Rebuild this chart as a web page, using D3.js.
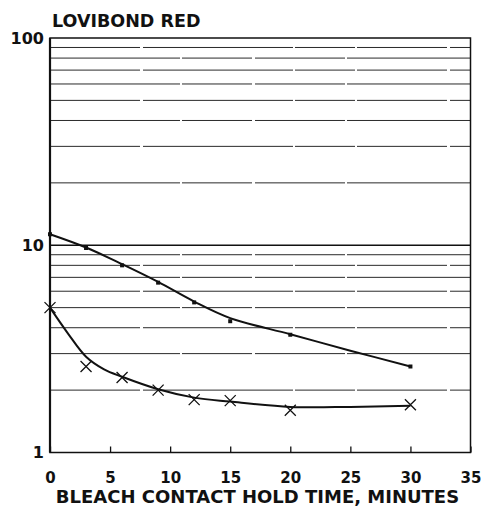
<!DOCTYPE html>
<html>
<head>
<meta charset="utf-8">
<script src="https://cdn.jsdelivr.net/npm/d3@7"></script>
<style>
  body { margin: 0; background: #fff; }
  text { font-family: "DejaVu Sans", sans-serif; font-weight: bold; fill: #111; }
</style>
</head>
<body>
<svg width="485" height="508"></svg>
<script>
'use strict';

// measured points (minutes, lovibond red)
const times = [0, 3, 6, 9, 12, 15, 20, 30];
const redSquares = [11.3, 9.7, 8.0, 6.6, 5.3, 4.3, 3.7, 2.6];
const redCrosses = [5.0, 2.6, 2.3, 2.0, 1.8, 1.78, 1.6, 1.7];

// hand drawn fit curves
const fitTimesUpper = [0, 3, 6, 9, 12, 15, 20, 25, 30];
const fitUpper = [11.3, 9.75, 8.1, 6.65, 5.35, 4.45, 3.72, 3.1, 2.6];
const fitTimesLower = [0, 1.5, 3, 4.5, 6, 9, 12, 15, 20, 25, 30];
const fitLower = [5.0, 3.75, 2.9, 2.52, 2.32, 2.02, 1.84, 1.76, 1.66, 1.66, 1.68];

const xTicks = [0, 5, 10, 15, 20, 25, 30, 35];
const yLabels = [1, 10, 100];
const yGrid = [2, 3, 4, 5, 6, 7, 8, 9, 10, 20, 30, 40, 50, 60, 70, 80, 90];

const svg = d3.select("svg");
const margin = {top: 38, right: 14.5, bottom: 55.5, left: 50};
const width = +svg.attr("width") - margin.left - margin.right;
const height = +svg.attr("height") - margin.top - margin.bottom;

const x = d3.scaleLinear().domain([0, 35]).range([0, width]);
const y = d3.scaleLog().domain([1, 100]).range([height, 0]);

const g = svg.append("g")
    .attr("transform", "translate(" + margin.left + "," + margin.top + ")");

// horizontal grid (photocopy-ish, slightly broken lines)
g.append("g").attr("class", "grid")
  .selectAll("line")
  .data(yGrid)
  .enter().append("line")
    .attr("x1", 0)
    .attr("x2", width)
    .attr("y1", d => y(d))
    .attr("y2", d => y(d))
    .attr("stroke", d => d === 10 ? "#111" : "#2a2a2a")
    .attr("stroke-width", d => d === 10 ? 1.4 : 1)
    .attr("stroke-dasharray", (d, i) => d === 10 ? null : (i % 2 ? "130,2,70,3,90,2" : "90,3,150,2,60,2"));

// x axis with inward ticks
const xAxis = d3.axisBottom(x)
    .tickValues(xTicks)
    .tickSize(-6)
    .tickPadding(20)
    .tickFormat(d3.format("d"));

g.append("g")
    .attr("class", "axis axis--x")
    .attr("transform", "translate(0," + height + ")")
    .call(xAxis)
    .call(a => a.select(".domain").remove())
    .call(a => a.selectAll("line").attr("stroke", "#111").attr("stroke-width", 1.3))
    .call(a => a.selectAll("text").attr("font-size", 15).attr("fill", "#111"));

// y axis labels only
const yAxis = d3.axisLeft(y)
    .tickValues(yLabels)
    .tickSize(0)
    .tickPadding(6)
    .tickFormat(d3.format("d"));

g.append("g")
    .attr("class", "axis axis--y")
    .call(yAxis)
    .call(a => a.select(".domain").remove())
    .call(a => a.selectAll("text").attr("font-size", 16).attr("fill", "#111"));

// frame
g.append("rect")
    .attr("x", 0).attr("y", 0)
    .attr("width", width).attr("height", height)
    .attr("fill", "none")
    .attr("stroke", "#111")
    .attr("stroke-width", 1.5);
g.append("line")
    .attr("x1", 0).attr("x2", 0)
    .attr("y1", 0).attr("y2", height)
    .attr("stroke", "#111")
    .attr("stroke-width", 2.2);

// fit curves
const line = d3.line()
    .x(d => x(d[0]))
    .y(d => y(d[1]))
    .curve(d3.curveCatmullRom.alpha(0.5));

g.append("path")
    .datum(d3.zip(fitTimesUpper, fitUpper))
    .attr("fill", "none")
    .attr("stroke", "#111")
    .attr("stroke-width", 2)
    .attr("d", line);

g.append("path")
    .datum(d3.zip(fitTimesLower, fitLower))
    .attr("fill", "none")
    .attr("stroke", "#111")
    .attr("stroke-width", 2)
    .attr("d", line);

// square markers
g.append("g").selectAll("rect")
  .data(d3.zip(times, redSquares))
  .enter().append("rect")
    .attr("x", d => x(d[0]) - 2)
    .attr("y", d => y(d[1]) - 2)
    .attr("width", 4)
    .attr("height", 4)
    .attr("fill", "#111");

// cross markers
const s = 5.5;
g.append("g").selectAll("path")
  .data(d3.zip(times, redCrosses))
  .enter().append("path")
    .attr("d", d => {
      const cx = x(d[0]), cy = y(d[1]);
      return "M" + (cx - s) + "," + (cy - s) + "L" + (cx + s) + "," + (cy + s) +
             "M" + (cx - s) + "," + (cy + s) + "L" + (cx + s) + "," + (cy - s);
    })
    .attr("stroke", "#111")
    .attr("stroke-width", 1.3)
    .attr("fill", "none");

// titles
svg.append("text")
    .attr("x", 52)
    .attr("y", 26.5)
    .attr("font-size", 17.5)
    .text("LOVIBOND RED");

svg.append("text")
    .attr("x", 257.5)
    .attr("y", 503)
    .attr("text-anchor", "middle")
    .attr("font-size", 18)
    .text("BLEACH CONTACT HOLD TIME, MINUTES");
</script>
</body>
</html>
